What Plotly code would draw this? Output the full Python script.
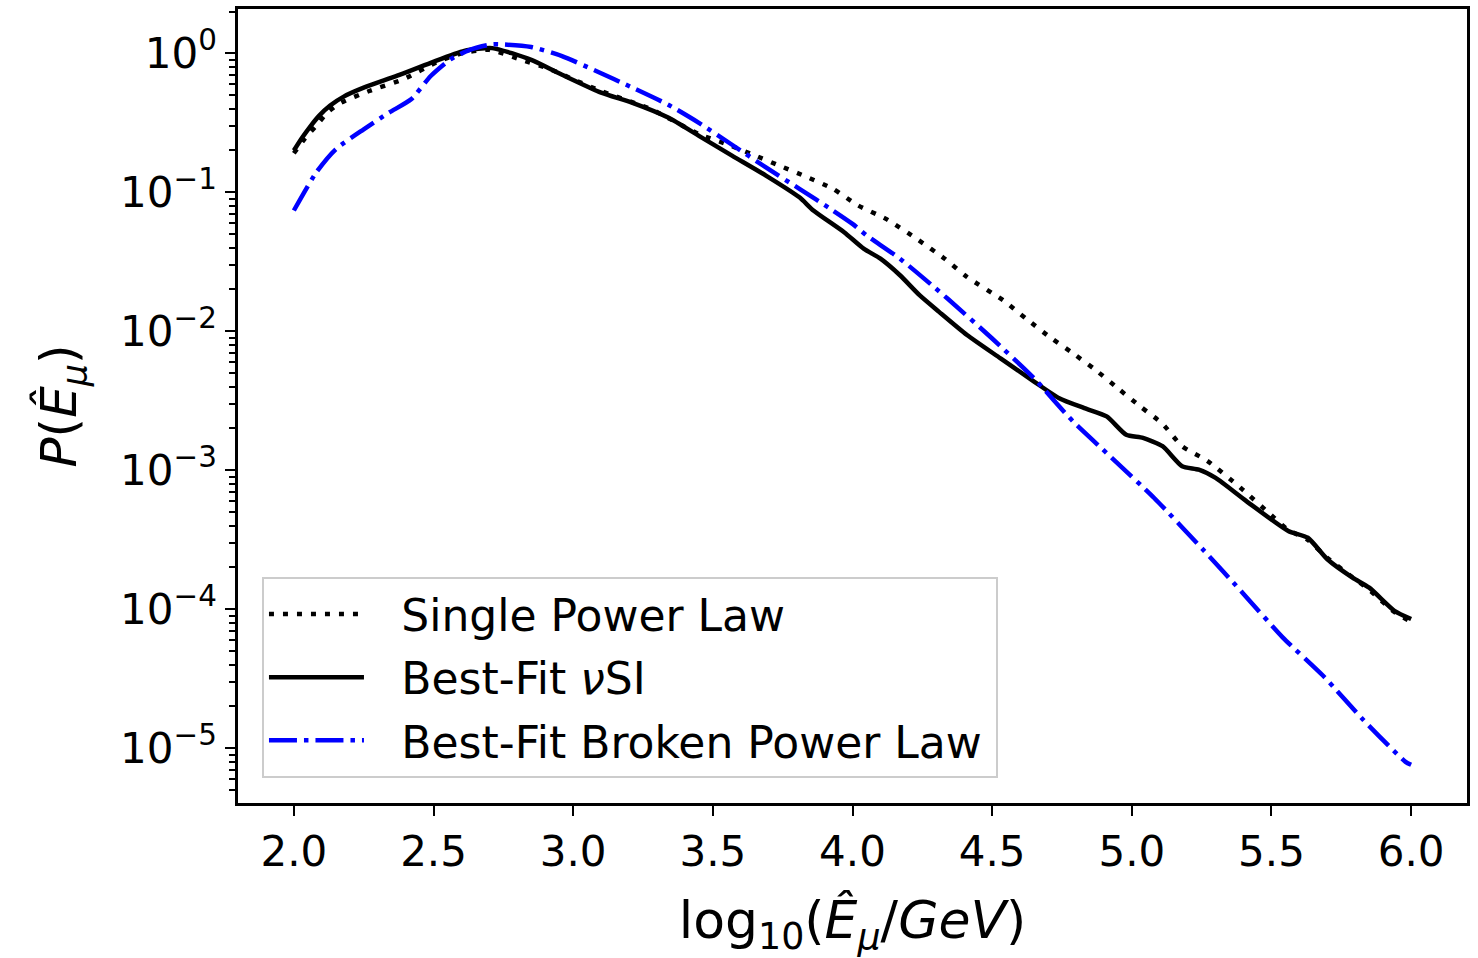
import plotly.graph_objects as go

# ---- data (x = log10(E/GeV), y = P) ----
x_spl = [2.00, 2.04, 2.08, 2.12, 2.17, 2.27, 2.39, 2.52, 2.61, 2.70, 2.81, 2.92, 3.00, 3.10, 3.28,
         3.45, 3.55, 3.64, 3.74, 3.84, 3.93, 4.02, 4.12, 4.23, 4.33, 4.41, 4.54, 4.62,
         4.71, 4.79, 4.87, 4.95, 5.03, 5.11, 5.18, 5.27, 5.39, 5.51, 5.56, 5.63, 5.70,
         5.79, 5.85, 5.94, 6.00]
p_spl = [0.191, 0.245, 0.301, 0.375, 0.442, 0.536, 0.649, 0.879, 1.01, 1.06, 0.904, 0.766, 0.649, 0.536, 0.395,
         0.262, 0.222, 0.188, 0.155, 0.128, 0.106, 0.0804, 0.0644, 0.0462, 0.0333, 0.0246, 0.0167, 0.0124,
         0.00897, 0.00693, 0.00527, 0.00389, 0.00288, 0.00216, 0.00149, 0.00117, 0.000746, 0.000455,
         0.000372, 0.000316, 0.000234, 0.000170, 0.000138, 0.0000955, 0.0000813]

x_nusi = [2.00, 2.03, 2.06, 2.09, 2.13, 2.18, 2.25, 2.37, 2.49, 2.61, 2.71, 2.85, 2.96, 3.10, 3.21, 3.34, 3.45, 3.57,
          3.69, 3.81, 3.86, 3.97, 4.04, 4.10, 4.17, 4.24, 4.31, 4.41, 4.53, 4.65, 4.74, 4.83,
          4.91, 4.98, 5.04, 5.11, 5.18, 5.24, 5.30, 5.41, 5.56, 5.63, 5.70, 5.79, 5.85, 5.94, 6.00]
p_nusi = [0.200, 0.248, 0.300, 0.355, 0.421, 0.490, 0.566, 0.690, 0.855, 1.04, 1.09, 0.897, 0.701, 0.521, 0.442, 0.345, 0.255, 0.183,
          0.132, 0.0920, 0.0740, 0.0516, 0.0393, 0.0333, 0.0253, 0.0182, 0.0138, 0.00940, 0.00638,
          0.00435, 0.00330, 0.00280, 0.00244, 0.00180, 0.00171, 0.00149, 0.00107, 0.00101, 0.000881,
          0.000600, 0.000366, 0.000327, 0.000229, 0.000169, 0.000143, 0.0000975, 0.0000851]

x_bpl = [2.00, 2.08, 2.15, 2.25, 2.34, 2.42, 2.49, 2.56, 2.63, 2.71, 2.85, 2.96, 3.08, 3.21,
         3.34, 3.45, 3.57, 3.69, 3.81, 3.93, 4.00, 4.05, 4.17, 4.34, 4.50, 4.65, 4.79, 4.93,
         5.08, 5.26, 5.40, 5.54, 5.69, 5.83, 5.98, 6.00]
p_bpl = [0.0740, 0.139, 0.204, 0.284, 0.374, 0.467, 0.687, 0.904, 1.06, 1.16, 1.11, 0.955, 0.750, 0.569,
         0.427, 0.316, 0.219, 0.151, 0.106, 0.0740, 0.0593, 0.0490, 0.0333, 0.0172, 0.00887, 0.00459,
         0.00224, 0.00122, 0.000632, 0.000262, 0.000129, 0.0000628, 0.0000324, 0.0000159, 0.00000798,
         0.0000076]

x_tickvals = [2.0, 2.5, 3.0, 3.5, 4.0, 4.5, 5.0, 5.5, 6.0]
x_ticktext = ["2.0", "2.5", "3.0", "3.5", "4.0", "4.5", "5.0", "5.5", "6.0"]
y_tickvals = [1, 0.1, 0.01, 0.001, 0.0001, 0.00001]
y_ticktext = ["10<sup>0</sup>", "10<sup>\u22121</sup>", "10<sup>\u22122</sup>",
              "10<sup>\u22123</sup>", "10<sup>\u22124</sup>", "10<sup>\u22125</sup>"]

# minor log ticks (2..9 in each decade)
y_minor = []
for e in range(-6, 1):
    for m in range(2, 10):
        y_minor.append(m * 10.0 ** e)

FONT = "DejaVu Sans"
PAD = "\u00a0\u00a0\u200a"

fig = go.Figure()
fig.add_trace(go.Scatter(x=x_spl, y=p_spl, mode="lines", name=PAD + "Single Power Law",
                         legendgroup="g1",
                         line=dict(color="black", width=4.5, dash="5px,9px",
                                   shape="spline", smoothing=0.6)))
fig.add_trace(go.Scatter(x=x_nusi, y=p_nusi, mode="lines", name=PAD + "Best-Fit <i>\u03bd</i>SI",
                         legendgroup="g2",
                         line=dict(color="black", width=4.5, shape="spline", smoothing=0.6)))
fig.add_trace(go.Scatter(x=x_bpl, y=p_bpl, mode="lines",
                         name=PAD + "Best-Fit Broken Power Law\u2009",
                         legendgroup="g3",
                         line=dict(color="#0000ff", width=4.5, dash="28px,7px,4.5px,7px",
                                   shape="spline", smoothing=0.6)))

fig.update_layout(
    width=1478, height=958,
    margin=dict(l=238, r=11, t=6, b=155),
    paper_bgcolor="white", plot_bgcolor="white",
    font=dict(family=FONT, size=42, color="black"),
    showlegend=True,
    legend=dict(x=0.0195, y=0.2848, xanchor="left", yanchor="top",
                bgcolor="white", bordercolor="#cccccc", borderwidth=2,
                font=dict(family=FONT, size=44, color="black"),
                itemwidth=95, tracegroupgap=3),
)
fig.update_xaxes(range=[1.8, 6.2], tickmode="array", tickvals=x_tickvals, ticktext=x_ticktext,
                 ticks="outside", ticklen=10, tickwidth=2.2, tickcolor="black",
                 showline=True, linecolor="black", linewidth=2.5, mirror=True,
                 showgrid=False, zeroline=False,
                 tickfont=dict(family=FONT, size=42),
                 title=dict(text="log<sub>10</sub>(<i>\u00ca</i><sub><i>\u03bc</i></sub>/<i>GeV</i>)",
                            font=dict(family=FONT, size=52), standoff=28))
fig.update_yaxes(type="log", range=[-5.394, 0.319], tickmode="array",
                 tickvals=y_tickvals, ticktext=y_ticktext,
                 ticks="outside", ticklen=10, tickwidth=2.2, tickcolor="black",
                 minor=dict(tickmode="array", tickvals=y_minor, ticks="outside", ticklen=6,
                            tickwidth=1.5, tickcolor="black", showgrid=False),
                 showline=True, linecolor="black", linewidth=2.5, mirror=True,
                 showgrid=False, zeroline=False,
                 tickfont=dict(family=FONT, size=42),
                 title=dict(text="<i>P</i>(<i>\u00ca</i><sub><i>\u03bc</i></sub>)",
                            font=dict(family=FONT, size=50), standoff=28))

fig.write_html("out.html")
